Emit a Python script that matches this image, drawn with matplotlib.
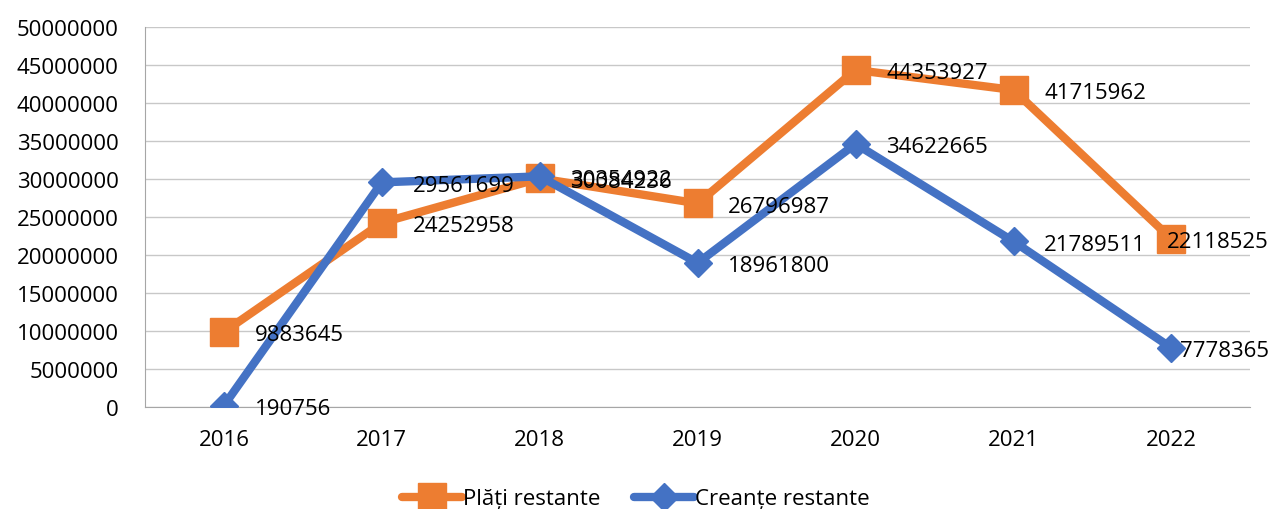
import matplotlib.pyplot as plt

years = ["2016", "2017", "2018", "2019", "2020", "2021", "2022"]
plati = [9883645, 24252958, 30084236, 26796987, 44353927, 41715962, 22118525]
creante = [190756, 29561699, 30354922, 18961800, 34622665, 21789511, 7778365]

plt.rcParams['font.family'] = ['Open Sans', 'DejaVu Sans']
fs = 16

fig = plt.figure(figsize=(12.72, 5.10), dpi=100)
ax = fig.add_axes([0.114, 0.2, 0.869, 0.745])

x = list(range(len(years)))
orange = "#ED7D31"
blue = "#4472C4"

ax.plot(x, plati, color=orange, lw=6, marker="s", markersize=20,
        label="Plăți restante", solid_capstyle="round", zorder=3)
ax.plot(x, creante, color=blue, lw=6, marker="D", markersize=14,
        label="Creanțe restante", solid_capstyle="round", zorder=4)

# data labels to the right; the last one is pulled back inside the figure
for series in (plati, creante):
    for xi, v in zip(x, series):
        if xi == len(x) - 1:
            ax.annotate(str(v), (xi, v), xytext=(70, -2), textcoords="offset points",
                        va="center", ha="right", fontsize=fs, zorder=5)
        else:
            ax.annotate(str(v), (xi, v), xytext=(22, -2), textcoords="offset points",
                        va="center", ha="left", fontsize=fs, zorder=5)

ax.set_xlim(-0.5, len(years) - 0.5)
ax.set_ylim(0, 50000000)
ax.set_yticks(range(0, 50000001, 5000000))
ax.set_yticklabels([str(v) for v in range(0, 50000001, 5000000)], fontsize=fs)
ax.set_xticks(x)
ax.set_xticklabels(years, fontsize=fs)
ax.yaxis.grid(True, color="#C8C8C8", lw=1)
ax.set_axisbelow(True)
for s in ["top", "right"]:
    ax.spines[s].set_visible(False)
ax.spines["left"].set_color("#A6A6A6")
ax.spines["bottom"].set_color("#A6A6A6")
ax.tick_params(axis="y", length=0, pad=19)
ax.tick_params(axis="x", length=0, pad=16)

h, l = ax.get_legend_handles_labels()
fig.legend(h, l, loc="center", bbox_to_anchor=(0.5, 0.02), ncol=2, frameon=False,
           fontsize=fs, handlelength=2.7, columnspacing=1.5, handletextpad=0.05)

fig.savefig("out.png", dpi=100)
